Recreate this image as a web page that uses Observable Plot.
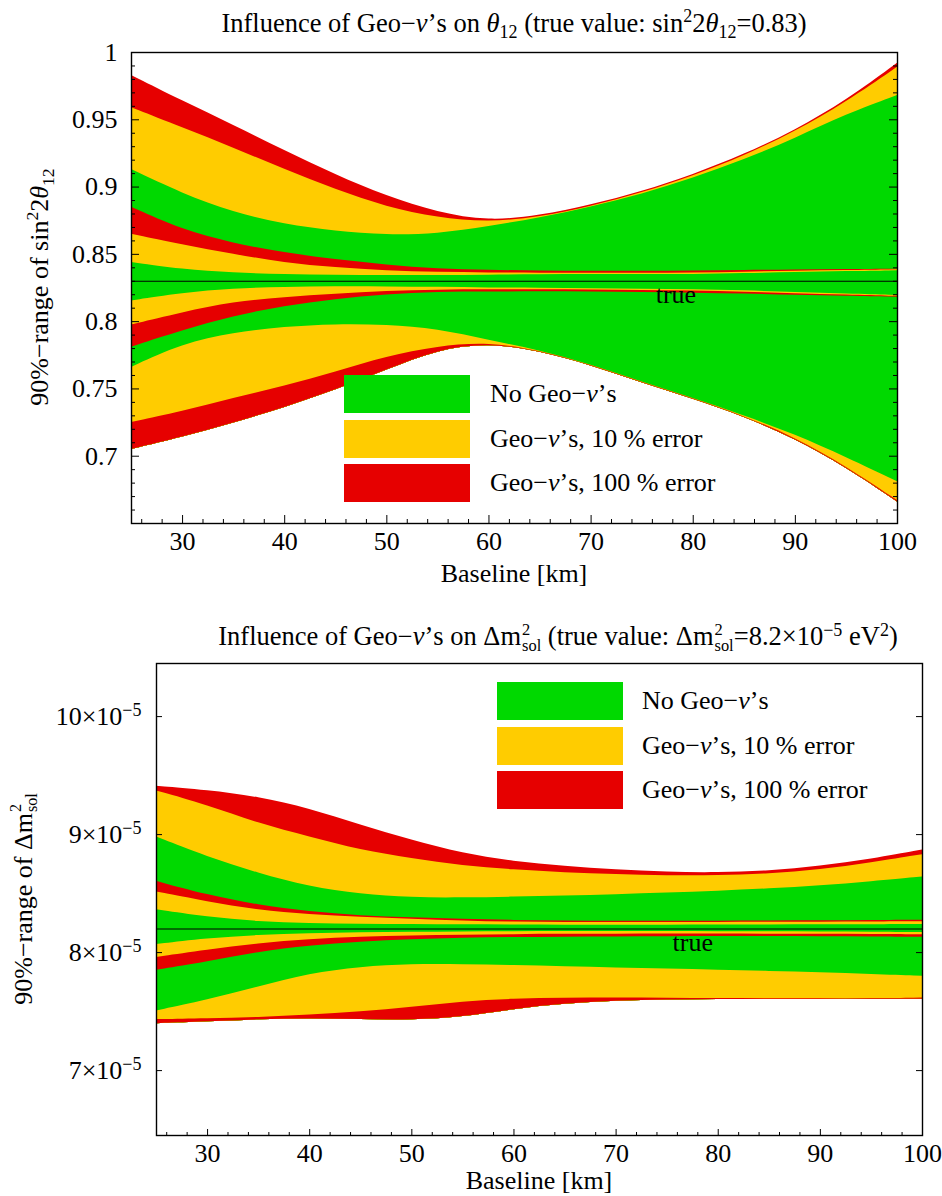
<!DOCTYPE html>
<html><head><meta charset="utf-8">
<script src="https://cdn.jsdelivr.net/npm/d3@7"></script>
<script src="https://cdn.jsdelivr.net/npm/@observablehq/plot@0.6"></script>
<style>
body{margin:0;background:#fff;}
#wrap{position:relative;width:942px;height:1196px;font-family:"Liberation Serif","Times New Roman",serif;color:#000;overflow:hidden}
.abs{position:absolute;white-space:nowrap;line-height:1}
.box{position:absolute}
.ss{display:inline-block;vertical-align:-0.34em;font-size:0.62em;line-height:1;text-align:left;margin-left:1px}
.ss span{display:block}
sub,sup{font-size:0.68em;line-height:0}
svg{position:absolute;left:0}
</style></head><body><div id="wrap"></div>
<script>
// ---------- data ----------
const baseline = [25,30,35,40,45,50,55,60,65,70,75,80,85,90,95,100];
const bandColors = ["red","yellow","green","red","yellow","green","yellow","red","green","yellow","red"];
const palette = {green:"#00d900", yellow:"#ffcc00", red:"#e60000"};

// top panel: boundaries (sin^2 2theta12), from top to bottom
const topB0  = [0.983,0.964,0.946,0.927,0.909,0.893,0.881,0.8745,0.8785,0.8865,0.8965,0.909,0.924,0.942,0.964,0.992];
const topB1  = [0.959,0.944,0.929,0.913,0.898,0.885,0.877,0.8735,0.8775,0.8855,0.8955,0.908,0.923,0.941,0.963,0.989];
const topB2  = [0.913,0.895,0.881,0.872,0.867,0.864,0.865,0.8705,0.877,0.885,0.8945,0.9065,0.920,0.936,0.954,0.968];
const topB3  = [0.885,0.868,0.858,0.851,0.846,0.842,0.839,0.838,0.8377,0.8375,0.8375,0.8377,0.838,0.8383,0.8387,0.839];
const topB4  = [0.865,0.857,0.850,0.8435,0.840,0.8375,0.8365,0.8362,0.836,0.836,0.836,0.836,0.8367,0.8375,0.838,0.8385];
const topB5  = [0.844,0.8386,0.836,0.835,0.8345,0.8343,0.8343,0.8345,0.8348,0.835,0.835,0.835,0.8357,0.8365,0.8372,0.8378];
const topB6  = [0.8154,0.8211,0.8244,0.8254,0.826,0.8258,0.8255,0.825,0.8248,0.8245,0.824,0.8237,0.823,0.8215,0.8205,0.8195];
const topB7  = [0.7975,0.8067,0.8145,0.818,0.8205,0.8225,0.8235,0.8237,0.8237,0.8235,0.8232,0.8228,0.822,0.8207,0.8197,0.8188];
const topB8  = [0.781,0.7933,0.804,0.8115,0.8165,0.820,0.822,0.822,0.8222,0.822,0.8218,0.8212,0.8205,0.8195,0.8188,0.8182];
const topB9  = [0.766,0.7835,0.7915,0.796,0.798,0.7975,0.7945,0.786,0.7785,0.768,0.755,0.743,0.730,0.716,0.699,0.681];
const topB10 = [0.725,0.733,0.743,0.752,0.7625,0.774,0.7815,0.7845,0.7783,0.7678,0.7548,0.7428,0.7297,0.7138,0.6923,0.667];
const topB11 = [0.705,0.714,0.7245,0.736,0.749,0.764,0.779,0.7838,0.778,0.7675,0.7545,0.7425,0.7293,0.7128,0.6915,0.666];
const topTrue = 0.83;
const topYTicks = [0.7,0.75,0.8,0.85,0.9,0.95,1];

// bottom panel: boundaries (Delta m^2_sol in units of 1e-5 eV^2)
const botB0  = [9.409,9.375,9.319,9.22,9.079,8.952,8.839,8.77,8.73,8.70,8.68,8.675,8.69,8.73,8.79,8.87];
const botB1  = [9.37,9.248,9.093,8.98,8.867,8.797,8.734,8.70,8.675,8.66,8.65,8.65,8.665,8.70,8.76,8.83];
const botB2  = [8.98,8.81,8.67,8.556,8.494,8.463,8.463,8.47,8.48,8.49,8.505,8.52,8.54,8.565,8.60,8.64];
const botB3  = [8.604,8.486,8.40,8.344,8.31,8.296,8.282,8.272,8.268,8.266,8.265,8.266,8.268,8.27,8.272,8.275];
const botB4  = [8.514,8.429,8.358,8.32,8.30,8.282,8.268,8.257,8.255,8.255,8.255,8.256,8.257,8.258,8.26,8.262];
const botB5  = [8.364,8.30,8.26,8.246,8.24,8.237,8.235,8.233,8.232,8.232,8.232,8.233,8.234,8.235,8.236,8.238];
const botB6  = [8.068,8.119,8.147,8.161,8.168,8.172,8.175,8.177,8.178,8.178,8.178,8.177,8.176,8.175,8.173,8.17];
const botB7  = [7.958,8.02,8.076,8.11,8.132,8.142,8.147,8.153,8.155,8.156,8.157,8.157,8.156,8.155,8.154,8.152];
const botB8  = [7.85,7.92,8.005,8.056,8.09,8.11,8.124,8.128,8.131,8.133,8.135,8.136,8.136,8.135,8.133,8.13];
const botB9  = [7.505,7.596,7.708,7.822,7.878,7.901,7.898,7.89,7.88,7.87,7.86,7.85,7.84,7.83,7.815,7.80];
const botB10 = [7.432,7.44,7.449,7.469,7.497,7.534,7.585,7.607,7.613,7.615,7.613,7.61,7.608,7.608,7.61,7.615];
const botB11 = [7.398,7.412,7.432,7.44,7.432,7.426,7.45,7.52,7.565,7.59,7.60,7.603,7.603,7.603,7.604,7.605];
const botTrue = 8.2;
const botYTicks = [7,8,9,10];

const xTicks = [30,40,50,60,70,80,90,100];
const legendLabels = ["No Geo\u2212<i>\u03bd</i>\u2019s","Geo\u2212<i>\u03bd</i>\u2019s, 10 % error","Geo\u2212<i>\u03bd</i>\u2019s, 100 % error"];
const legendColors = ["green","yellow","red"];

// ---------- drawing ----------
const wrap = document.getElementById("wrap");
const FONT = '"Liberation Serif","Times New Roman",serif';

function panel(opt){
  const B = opt.B;
  const W = 942, H = opt.height;
  const fw = W - opt.ml - opt.mr, fh = H - opt.mt - opt.mb;
  const marks = [];
  for (let i = 0; i < 11; i++) {
    const d = baseline.map((k, j) => ({k, top: B[i][j], bot: B[11][j]}));
    marks.push(Plot.areaY(d, {x: "k", y1: "bot", y2: "top", fill: palette[bandColors[i]], curve: "basis"}));
  }
  marks.push(Plot.ruleY([opt.trueVal], {stroke: "black", strokeWidth: 1.1}));
  marks.push(Plot.text([{k: opt.trueX, v: opt.trueVal, t: "true"}], {x: "k", y: "v", text: "t", dy: opt.trueDy, fontSize: 26, fill: "black"}));
  // ticks (inside the frame)
  const yMin = opt.minorY;
  marks.push(Plot.tickY(opt.majorY, {y: d => d, insetRight: fw - opt.tl, stroke: "black", strokeWidth: 1}));
  marks.push(Plot.tickY(opt.majorY, {y: d => d, insetLeft: fw - opt.tl, stroke: "black", strokeWidth: 1}));
  if (yMin.length) {
    marks.push(Plot.tickY(yMin, {y: d => d, insetRight: fw - opt.ts, stroke: "black", strokeWidth: 1}));
    marks.push(Plot.tickY(yMin, {y: d => d, insetLeft: fw - opt.ts, stroke: "black", strokeWidth: 1}));
  }
  marks.push(Plot.tickX(xTicks, {x: d => d, insetTop: fh - opt.tl, stroke: "black", strokeWidth: 1}));
  marks.push(Plot.tickX(d3.range(26, 100, 2).filter(v => v % 10 !== 0), {x: d => d, insetTop: fh - opt.ts, stroke: "black", strokeWidth: 1}));
  marks.push(Plot.frame({stroke: "black", strokeWidth: 1.4}));
  marks.push(Plot.axisX({ticks: xTicks, tickSize: 0, tickPadding: 8, label: null, fontSize: 26, tickFormat: d => String(d)}));
  marks.push(Plot.axisY({ticks: opt.majorY, tickSize: 0, tickPadding: opt.tp, label: null, fontSize: 26, tickFormat: opt.fmt}));
  const svg = Plot.plot({
    width: W, height: H,
    marginLeft: opt.ml, marginRight: opt.mr, marginTop: opt.mt, marginBottom: opt.mb,
    x: {domain: [25, 100]},
    y: {domain: opt.yDomain},
    style: {fontFamily: FONT, fontSize: "26px", background: "transparent", overflow: "visible", color: "black"},
    marks
  });
  svg.style.top = opt.top + "px";
  return svg;
}

const svgTop = panel({
  B: [topB0,topB1,topB2,topB3,topB4,topB5,topB6,topB7,topB8,topB9,topB10,topB11],
  height: 600, top: 0, ml: 131, mr: 45, mt: 52, mb: 77,
  yDomain: [0.65, 1], trueVal: topTrue, trueX: 78.3, trueDy: 13,
  majorY: topYTicks, minorY: d3.range(66, 100).filter(v => v % 5 !== 0).map(v => v / 100),
  tl: 8, ts: 4, tp: 14, fmt: d => String(d)
});
wrap.appendChild(svgTop);

const svgBot = panel({
  B: [botB0,botB1,botB2,botB3,botB4,botB5,botB6,botB7,botB8,botB9,botB10,botB11],
  height: 596, top: 600, ml: 156, mr: 20, mt: 63, mb: 61,
  yDomain: [6.45, 10.45], trueVal: botTrue, trueX: 77.5, trueDy: 14,
  majorY: botYTicks, minorY: [],
  tl: 6, ts: 3, tp: 15, fmt: d => d + "\u00d710"
});
wrap.appendChild(svgBot);
d3.select(svgBot).selectAll('g[aria-label="y-axis tick label"] text').each(function(){
  d3.select(this).append("tspan").attr("dy", "-0.5em").attr("font-size", "18px").text("\u22125");
});

function addHTML(html, x, y, css, tf){
  const d = document.createElement("div");
  d.className = "abs";
  d.innerHTML = html;
  d.style.left = x + "px"; d.style.top = y + "px";
  d.style.transform = tf || "translate(-50%,-50%)";
  Object.assign(d.style, css || {});
  wrap.appendChild(d);
  return d;
}
const th = "<i>\u03b8</i><sub>12</sub>";
const dm = "\u0394m<span class='ss'><span>2</span><span>sol</span></span>";
addHTML(`Influence of Geo\u2212<i>\u03bd</i>\u2019s on ${th} (true value: sin<sup>2</sup>2${th}=0.83)`, 514, 23, {fontSize: "26.5px"});
addHTML("Baseline [km]", 514, 574, {fontSize: "26px"});
addHTML(`90%\u2212range of sin<sup>2</sup>2${th}`, 40, 287, {fontSize: "26px"}, "translate(-50%,-50%) rotate(-90deg)");
addHTML(`Influence of Geo\u2212<i>\u03bd</i>\u2019s on ${dm} (true value: ${dm}=8.2\u00d710<sup>\u22125</sup> eV<sup>2</sup>)`, 558, 638, {fontSize: "26.5px"});
addHTML("Baseline [km]", 539, 1181, {fontSize: "26px"});
addHTML(`90%\u2212range of ${dm}`, 24, 899, {fontSize: "26px"}, "translate(-50%,-50%) rotate(-90deg)");

function legend(x0, y0, labelX, step){
  legendColors.forEach((c, i) => {
    const b = document.createElement("div");
    b.className = "box";
    Object.assign(b.style, {left: x0 + "px", top: (y0 + i * step) + "px", width: "126px", height: "38px", background: palette[c]});
    wrap.appendChild(b);
    addHTML(legendLabels[i], labelX, y0 + i * step + 19, {fontSize: "26px"}, "translate(0,-50%)");
  });
}
legend(344, 375, 490, 44.5);
legend(497, 682, 642, 44.5);
</script>
</body></html>
